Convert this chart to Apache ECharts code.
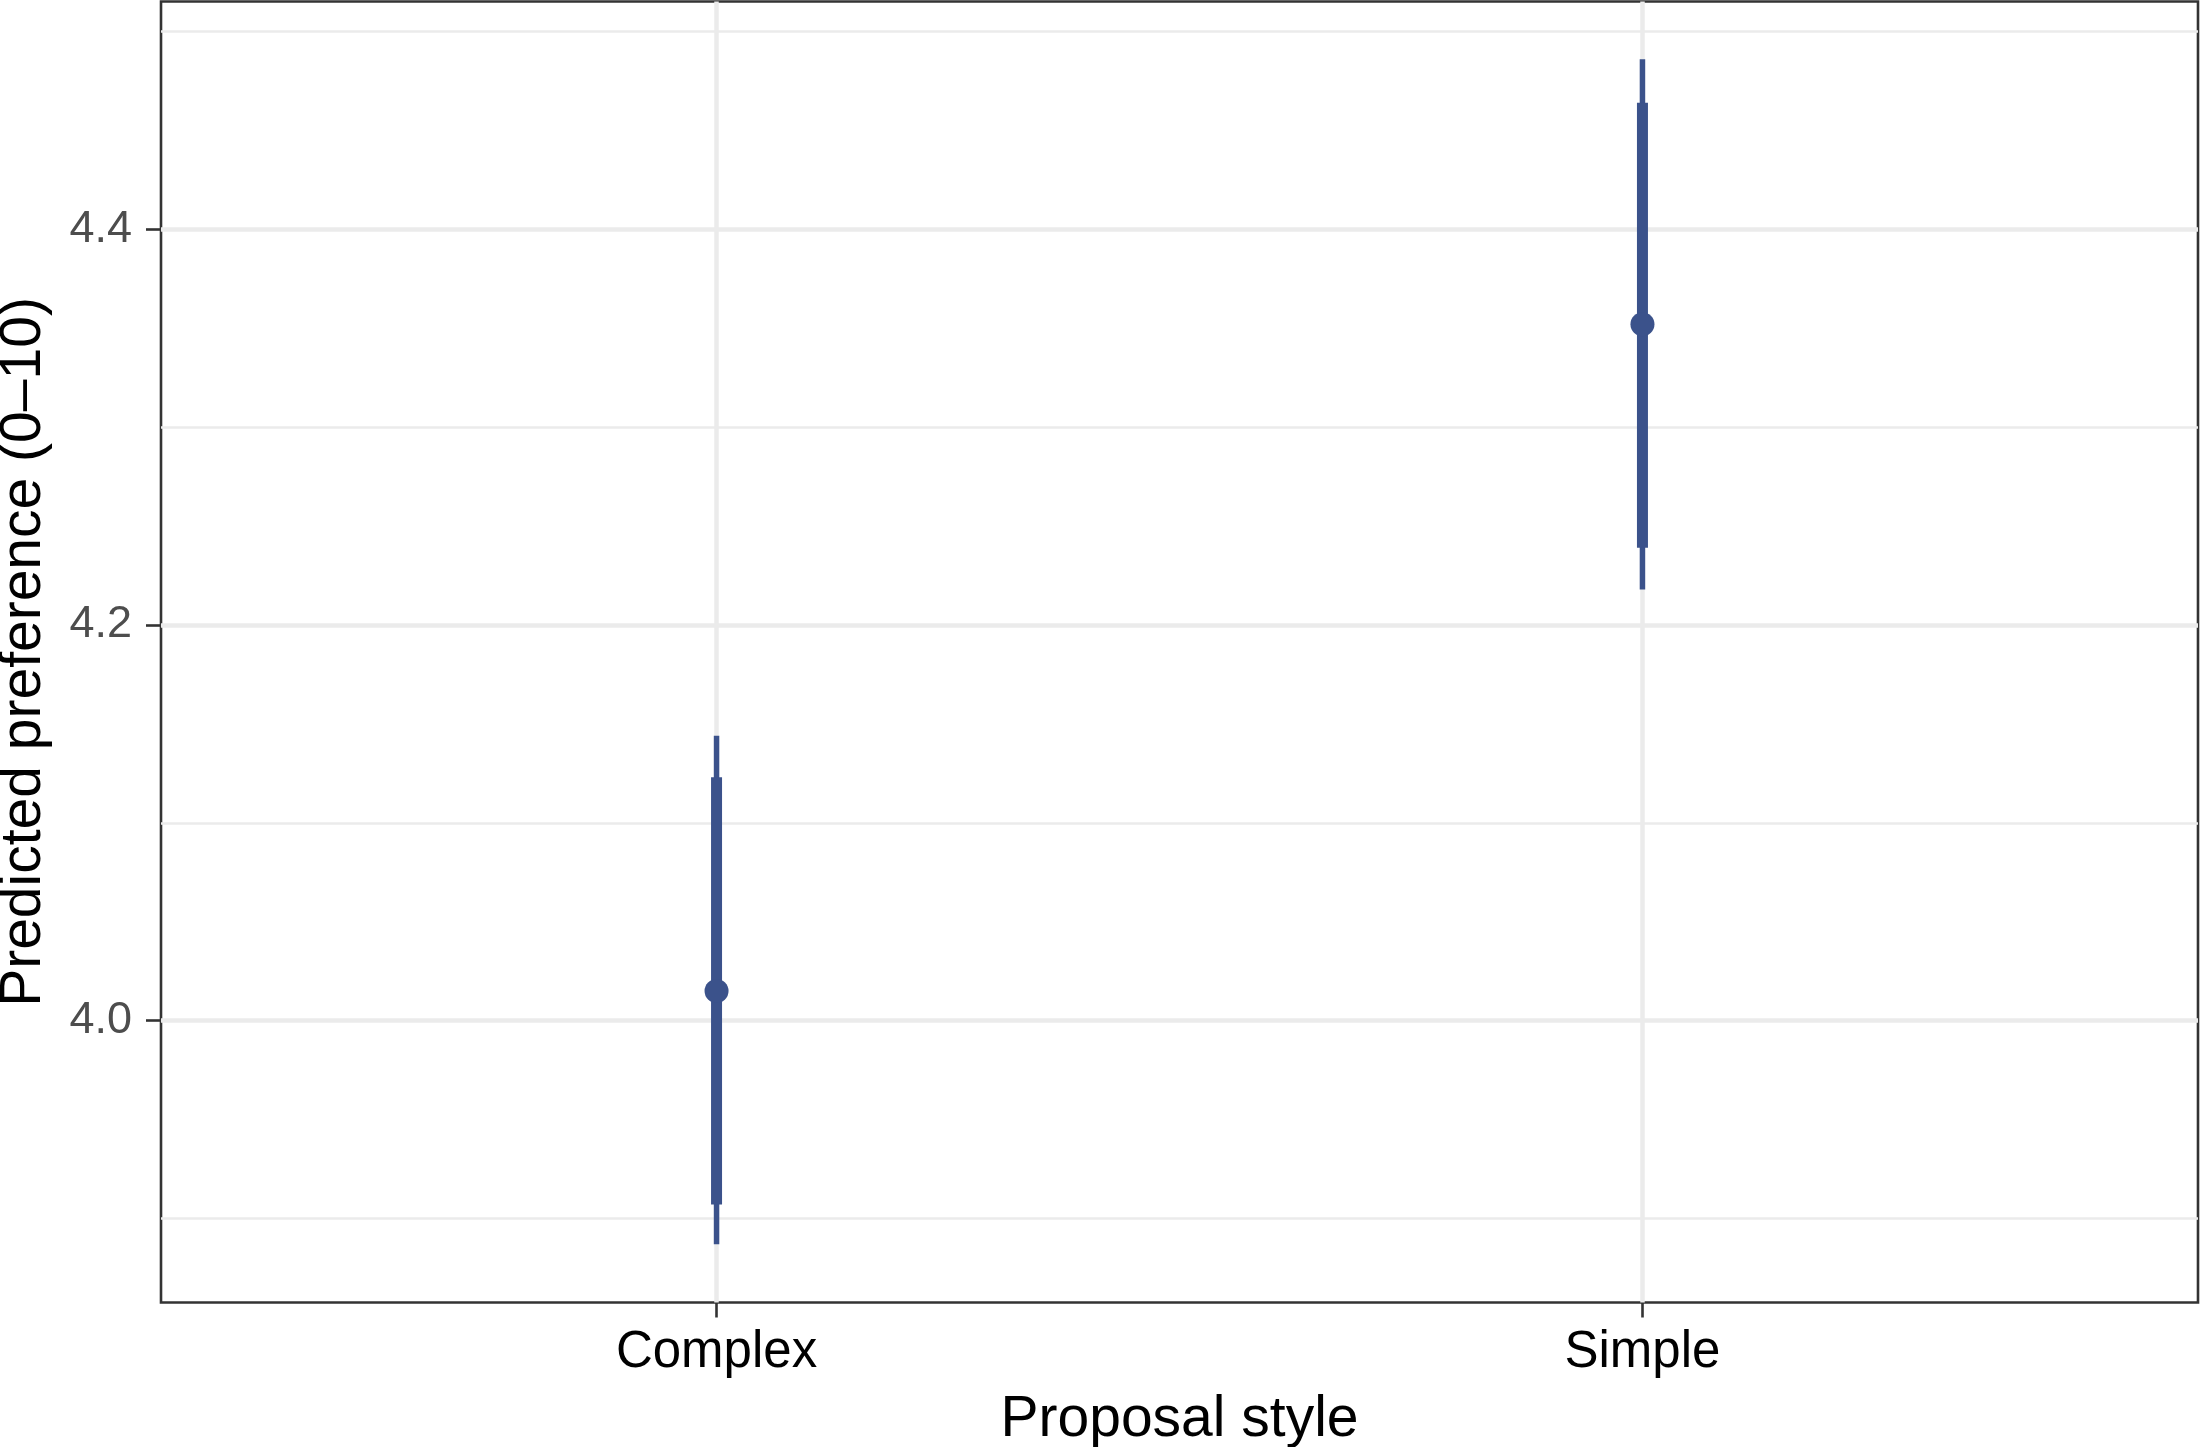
<!DOCTYPE html>
<html>
<head>
<meta charset="utf-8">
<style>
  html, body { margin: 0; padding: 0; background: #ffffff; }
  #chart { width: 2200px; height: 1447px; }
</style>
<script src="https://cdn.jsdelivr.net/npm/echarts@6/dist/echarts.min.js"></script>
</head>
<body>
<div id="chart"></div>
<script>
// ---- data ----
const categories = ['Complex', 'Simple'];
const estimates = [4.015, 4.352];
const lower95 = [3.887, 4.218];
const upper95 = [4.144, 4.486];
const lower80 = [3.907, 4.239];
const upper80 = [4.123, 4.464];
const yMajorTicks = [4.0, 4.2, 4.4];
const yMinorTicks = [3.9, 4.1, 4.3, 4.5];
const xPositions = [1, 2];

const FONT = '"Liberation Sans", Arial, Helvetica, sans-serif';
const COLOR = '#3B528B';

const chart = echarts.init(document.getElementById('chart'), null, { renderer: 'canvas' });

const seriesData = categories.map((c, i) => [xPositions[i], estimates[i], lower95[i], upper95[i], lower80[i], upper80[i]]);

function renderItem(params, api) {
  const x = api.value(0);
  const pEst = api.coord([x, api.value(1)]);
  const pLo95 = api.coord([x, api.value(2)]);
  const pHi95 = api.coord([x, api.value(3)]);
  const pLo80 = api.coord([x, api.value(4)]);
  const pHi80 = api.coord([x, api.value(5)]);
  return {
    type: 'group',
    children: [
      { type: 'line', shape: { x1: pLo95[0], y1: pLo95[1], x2: pHi95[0], y2: pHi95[1] },
        style: { stroke: COLOR, lineWidth: 5.5, lineCap: 'butt' } },
      { type: 'line', shape: { x1: pLo80[0], y1: pLo80[1], x2: pHi80[0], y2: pHi80[1] },
        style: { stroke: COLOR, lineWidth: 11, lineCap: 'butt' } },
      { type: 'circle', shape: { cx: pEst[0], cy: pEst[1], r: 12 },
        style: { fill: COLOR } }
    ]
  };
}

const gridLineSeries = {
  type: 'line',
  data: [],
  silent: true,
  z: 1,
  markLine: {
    silent: true,
    symbol: ['none', 'none'],
    label: { show: false },
    animation: false,
    data: [
      ...yMinorTicks.map(v => ({ yAxis: v, lineStyle: { color: '#EBEBEB', width: 2.5, type: 'solid' } })),
      ...yMajorTicks.map(v => ({ yAxis: v, lineStyle: { color: '#EBEBEB', width: 4.5, type: 'solid' } })),
      ...xPositions.map(v => ({ xAxis: v, lineStyle: { color: '#EBEBEB', width: 4.5, type: 'solid' } }))
    ]
  }
};

const option = {
  animation: false,
  backgroundColor: '#ffffff',
  grid: {
    left: 161, right: 2, top: 1.5, bottom: 144.5,
    show: true, borderColor: '#333333', borderWidth: 2.6, backgroundColor: 'transparent',
    containLabel: false,
    outerBoundsMode: 'none'
  },
  xAxis: {
    type: 'value',
    min: 0.4, max: 2.6,
    name: 'Proposal style',
    nameLocation: 'middle',
    nameGap: 89,
    nameTextStyle: { fontFamily: FONT, fontSize: 57, color: '#000000' },
    axisLine: { show: false },
    splitLine: { show: false },
    axisTick: { show: true, customValues: xPositions, length: 15, lineStyle: { color: '#333333', width: 2.6 } },
    axisLabel: {
      customValues: xPositions,
      formatter: v => categories[Math.round(v) - 1] || '',
      fontFamily: FONT, fontSize: 51, color: '#000000', margin: 25
    }
  },
  yAxis: {
    type: 'value',
    min: 3.8575, max: 4.5152,
    name: 'Predicted preference (0\u201310)',
    nameLocation: 'middle',
    nameGap: 108,
    nameTextStyle: { fontFamily: FONT, fontSize: 57, color: '#000000' },
    axisLine: { show: false },
    splitLine: { show: false },
    axisTick: { show: true, customValues: yMajorTicks, length: 15, lineStyle: { color: '#333333', width: 2.6 } },
    axisLabel: {
      customValues: yMajorTicks,
      formatter: v => v.toFixed(1),
      fontFamily: FONT, fontSize: 45, color: '#4D4D4D', margin: 29
    }
  },
  series: [
    gridLineSeries,
    {
      type: 'custom',
      renderItem: renderItem,
      data: seriesData,
      z: 5,
      encode: { x: 0, y: [1, 2, 3, 4, 5] }
    }
  ]
};

chart.setOption(option);
</script>
</body>
</html>
